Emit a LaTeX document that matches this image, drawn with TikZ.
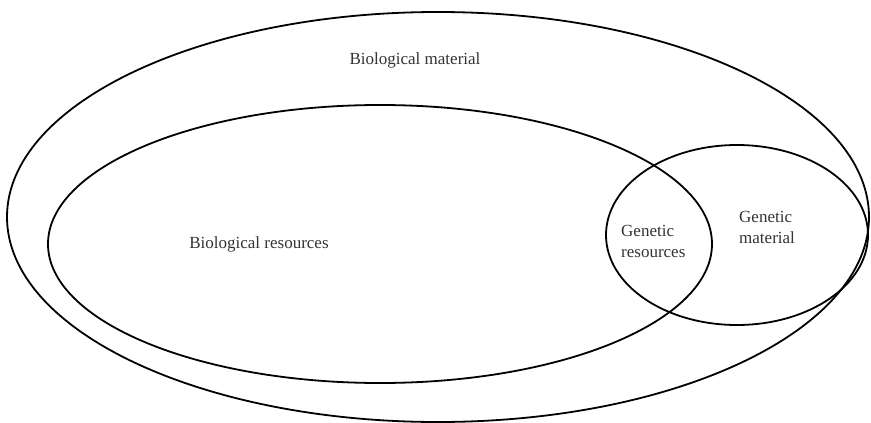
\documentclass[tikz,border=0pt]{standalone}
\usepackage{fontspec}
\setmainfont{Liberation Serif}
\begin{document}
\begin{tikzpicture}[x=1pt,y=-1pt,
  set/.style={draw=black,line width=1.8pt},
  lab/.style={text=black!80,font=\fontsize{17}{21}\selectfont,inner sep=0pt}]
\useasboundingbox (0,0) rectangle (871,423);
\draw[set] (438,217) ellipse [x radius=431,y radius=205];
\draw[set] (380,244) ellipse [x radius=332,y radius=139];
\draw[set] (737,235) ellipse [x radius=131,y radius=90];
\node[lab] (bm) at (415,60) {Biological material};
\node[lab] (br) at (259,244) {Biological resources};
\node[lab,align=left,anchor=west] (gr) at (621,241) {Genetic\\resources};
\node[lab,align=left,anchor=west] (gm) at (739,227) {Genetic\\material};
\end{tikzpicture}
\end{document}
